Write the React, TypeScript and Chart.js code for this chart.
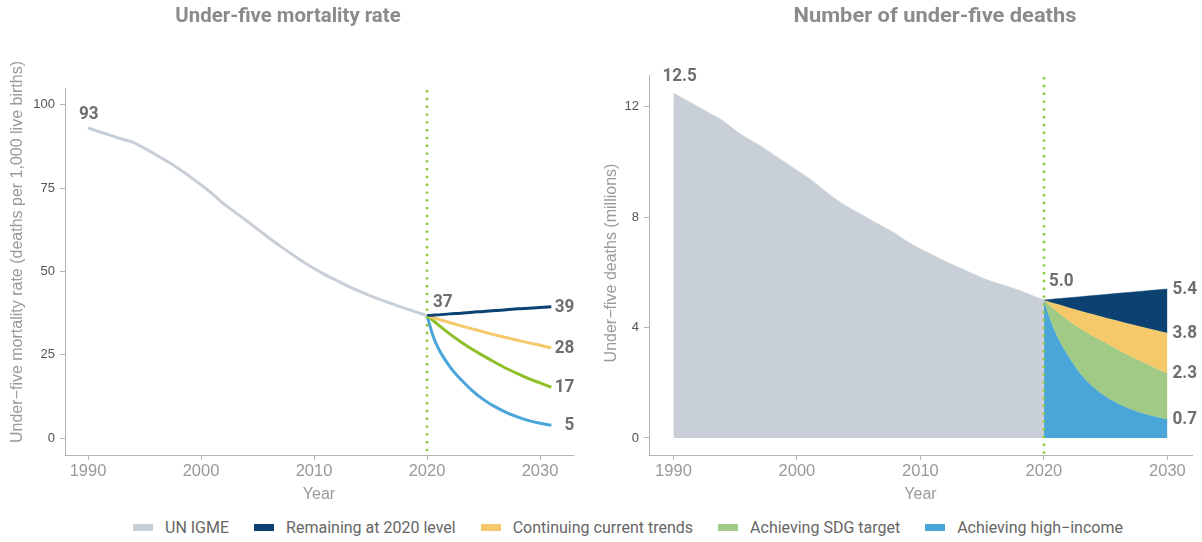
import React, { useEffect, useRef } from "react";
import { Chart, registerables } from "chart.js";
Chart.register(...registerables);

// ---------- data ----------
const histYears = [1990, 1991, 1992, 1993, 1994, 1995, 1996, 1997, 1998, 1999, 2000, 2001, 2002, 2003, 2004, 2005, 2006, 2007, 2008, 2009, 2010, 2011, 2012, 2013, 2014, 2015, 2016, 2017, 2018, 2019, 2020];
const rateHistoric = [93.0, 91.9, 90.8, 89.7, 88.7, 86.9, 85.0, 83.0, 80.9, 78.5, 76.0, 73.3, 70.3, 67.8, 65.3, 62.7, 60.1, 57.6, 55.3, 53.0, 50.9, 49.0, 47.3, 45.6, 44.1, 42.7, 41.4, 40.2, 39.0, 37.9, 36.8];
const rateProjYears = [2020, 2020.5, 2021, 2022, 2023, 2024, 2025, 2026, 2027, 2028, 2029, 2030, 2031];
const rateRemaining = [36.8, 36.9, 37.0, 37.3, 37.5, 37.8, 38.0, 38.3, 38.5, 38.8, 39.0, 39.2, 39.4];
const rateTrend = [36.8, 36.2, 35.7, 34.7, 33.7, 32.8, 31.9, 31.0, 30.2, 29.4, 28.6, 27.9, 27.1];
const rateSDG = [36.8, 35.4, 34.0, 31.3, 28.9, 26.7, 24.7, 22.8, 21.0, 19.4, 17.9, 16.6, 15.3];
const rateHighIncome = [36.8, 31.0, 27.0, 21.6, 17.6, 14.3, 11.6, 9.5, 7.8, 6.4, 5.3, 4.5, 3.9];

const deathsHistoric = [12.5, 12.25, 12.0, 11.75, 11.5, 11.15, 10.85, 10.6, 10.3, 10.0, 9.7, 9.4, 9.05, 8.7, 8.4, 8.15, 7.9, 7.65, 7.4, 7.1, 6.85, 6.63, 6.4, 6.2, 6.0, 5.8, 5.64, 5.5, 5.35, 5.17, 5.0];
const deathsProjYears = [2020, 2020.5, 2021, 2022, 2023, 2024, 2025, 2026, 2027, 2028, 2029, 2030];
const deathsRemaining = [5.0, 5.02, 5.04, 5.08, 5.12, 5.16, 5.2, 5.24, 5.28, 5.32, 5.36, 5.4];
const deathsTrend = [5.0, 4.93, 4.86, 4.73, 4.6, 4.48, 4.36, 4.25, 4.13, 4.02, 3.91, 3.8];
const deathsSDG = [5.0, 4.8, 4.6, 4.25, 3.95, 3.68, 3.45, 3.2, 2.96, 2.75, 2.54, 2.34];
const deathsHighIncome = [5.0, 4.3, 3.75, 2.95, 2.3, 1.85, 1.5, 1.25, 1.05, 0.9, 0.78, 0.68];

const yearTicks = [1990, 2000, 2010, 2020, 2030];
const rateTicks = [0, 25, 50, 75, 100];
const deathsTicks = [0, 4, 8, 12];
const splitYear = 2020;

const seriesNames = ["UN IGME", "Remaining at 2020 level", "Continuing current trends", "Achieving SDG target", "Achieving high\u2212income"];
const rateStartLabels = ["93", "37"];
const rateEndLabels = ["39", "28", "17", "5"];
const deathsStartLabels = ["12.5", "5.0"];
const deathsEndLabels = ["5.4", "3.8", "2.3", "0.7"];

// ---------- styles ----------
const C_GRAY = "#c9cfd7";
const C_NAVY = "#0b4271";
const C_YELLOW = "#f5c96a";
const C_GREEN_LINE = "#8fbf2a";
const C_GREEN_AREA = "#a0ca86";
const C_BLUE = "#4aa5d9";
const C_DOT = "#8dc63f";
const C_AXIS = "#b5b5b5";
const seriesColors = [C_GRAY, C_NAVY, C_YELLOW, C_GREEN_AREA, C_BLUE];

const SANS = "'Liberation Sans', Arial, sans-serif";
const COND = "Roboto, 'Liberation Sans', sans-serif";

const pts = (xs: number[], ys: number[]) => xs.map((x, i) => ({ x, y: ys[i] }));

// draw text horizontally compressed to imitate a condensed face
function condText(ctx: any, text: string, x: number, y: number, align: string, sx: number) {
  ctx.save();
  ctx.translate(x, y);
  ctx.scale(sx, 1);
  ctx.textAlign = align;
  ctx.fillText(text, 0, 0);
  ctx.restore();
}

const annotPlugin = {
  id: "annot",
  afterDatasetsDraw(chart: any, _args: any, opts: any) {
    const { ctx, chartArea, scales } = chart;
    const x = scales.x.getPixelForValue(opts.splitYear);
    ctx.save();
    ctx.strokeStyle = C_DOT;
    ctx.lineWidth = 2.5;
    ctx.lineCap = "butt";
    ctx.setLineDash([2.4, 5.4]);
    ctx.beginPath();
    ctx.moveTo(x, chartArea.top + 2);
    ctx.lineTo(x, chartArea.bottom);
    ctx.stroke();
    ctx.restore();
  },
  afterDraw(chart: any, _args: any, opts: any) {
    const { ctx } = chart;
    ctx.save();
    ctx.font = `bold 21px ${COND}`;
    ctx.fillStyle = "#8b8b8b";
    ctx.textBaseline = "middle";
    condText(ctx, opts.title, opts.titleX, opts.titleY, "center", opts.titleScale);

    ctx.save();
    ctx.translate(opts.yTitleX, opts.yTitleY);
    ctx.rotate(-Math.PI / 2);
    ctx.font = `16px ${SANS}`;
    ctx.fillStyle = "#9a9a9a";
    ctx.textAlign = "center";
    ctx.textBaseline = "middle";
    ctx.fillText(opts.yTitle, 0, 0);
    ctx.restore();

    ctx.font = `bold 19px ${COND}`;
    ctx.fillStyle = "#6e6e6e";
    ctx.textBaseline = "middle";
    for (const l of opts.labels) {
      const meta = chart.getDatasetMeta(l.ds);
      const idx = l.idx < 0 ? meta.data.length - 1 : l.idx;
      const p = meta.data[idx];
      condText(ctx, l.text, p.x + l.dx, p.y + l.dy, l.align, 0.9);
    }
    ctx.restore();
  },
};

function makeScales(xMin: number, xMax: number, yMin: number, yMax: number, yTicks: number[], yWidth: number) {
  return {
    x: {
      type: "linear" as const,
      min: xMin,
      max: xMax,
      afterBuildTicks: (s: any) => { s.ticks = yearTicks.map((v) => ({ value: v })); },
      afterFit: (s: any) => { s.height = 50; },
      grid: { drawOnChartArea: false, drawTicks: true, tickLength: 5, color: C_AXIS },
      border: { display: true, color: C_AXIS, width: 1 },
      ticks: { padding: 2, color: "#999999", font: { family: SANS, size: 16.5 }, callback: (v: any) => String(v) },
      title: { display: true, text: "Year", color: "#999999", font: { family: SANS, size: 16 }, padding: { top: 0, bottom: 1 } },
    },
    y: {
      type: "linear" as const,
      min: yMin,
      max: yMax,
      afterBuildTicks: (s: any) => { s.ticks = yTicks.map((v) => ({ value: v })); },
      afterFit: (s: any) => { s.width = yWidth; },
      grid: { drawOnChartArea: false, drawTicks: true, tickLength: 5, color: C_AXIS },
      border: { display: true, color: C_AXIS, width: 1 },
      ticks: { padding: 5, color: "#555555", font: { family: SANS, size: 13 } },
      title: { display: false },
    },
  };
}

function RateChart() {
  const ref = useRef<HTMLCanvasElement>(null);
  useEffect(() => {
    const line = (data: any, color: string) => ({
      data,
      borderColor: color,
      backgroundColor: color,
      borderWidth: 3,
      pointRadius: 0,
      fill: false,
      cubicInterpolationMode: "monotone" as const,
    });
    const chart = new Chart(ref.current!, {
      type: "line",
      data: {
        datasets: [
          line(pts(histYears, rateHistoric), C_GRAY),
          line(pts(rateProjYears, rateRemaining), C_NAVY),
          line(pts(rateProjYears, rateTrend), C_YELLOW),
          line(pts(rateProjYears, rateSDG), C_GREEN_LINE),
          line(pts(rateProjYears, rateHighIncome), C_BLUE),
        ],
      },
      options: {
        responsive: false,
        animation: false,
        layout: { padding: { top: 88, right: 17, bottom: 0, left: 0 } },
        scales: makeScales(1987.96, 2032.92, -5, 105, rateTicks, 65) as any,
        plugins: {
          legend: { display: false },
          tooltip: { enabled: false },
          annot: {
            splitYear,
            title: "Under-five mortality rate",
            titleX: 288,
            titleY: 17,
            titleScale: 0.97,
            yTitle: "Under\u2212five mortality rate (deaths per 1,000 live births)",
            yTitleX: 18,
            yTitleY: 252,
            labels: [
              { text: rateStartLabels[0], ds: 0, idx: 0, align: "left", dx: -9, dy: -14 },
              { text: rateStartLabels[1], ds: 0, idx: -1, align: "left", dx: 6, dy: -13 },
              { text: rateEndLabels[0], ds: 1, idx: -1, align: "right", dx: 23, dy: 0 },
              { text: rateEndLabels[1], ds: 2, idx: -1, align: "right", dx: 23, dy: 0 },
              { text: rateEndLabels[2], ds: 3, idx: -1, align: "right", dx: 23, dy: 0 },
              { text: rateEndLabels[3], ds: 4, idx: -1, align: "right", dx: 23, dy: 0 },
            ],
          },
        } as any,
      },
      plugins: [annotPlugin],
    });
    return () => chart.destroy();
  }, []);
  return <canvas ref={ref} width={590} height={505} style={{ position: "absolute", left: 0, top: 0, width: 590, height: 505 }} />;
}

function DeathsChart() {
  const ref = useRef<HTMLCanvasElement>(null);
  useEffect(() => {
    const area = (data: any, color: string, fill: any) => ({
      data,
      borderColor: color,
      backgroundColor: color,
      borderWidth: 0.5,
      pointRadius: 0,
      fill,
      cubicInterpolationMode: "monotone" as const,
    });
    const chart = new Chart(ref.current!, {
      type: "line",
      data: {
        datasets: [
          area(pts(histYears, deathsHistoric), C_GRAY, "origin"),
          area(pts(deathsProjYears, deathsRemaining), C_NAVY, "+1"),
          area(pts(deathsProjYears, deathsTrend), C_YELLOW, "+1"),
          area(pts(deathsProjYears, deathsSDG), C_GREEN_AREA, "+1"),
          area(pts(deathsProjYears, deathsHighIncome), C_BLUE, "origin"),
        ],
      },
      options: {
        responsive: false,
        animation: false,
        layout: { padding: { top: 75, right: 10, bottom: 0, left: 0 } },
        scales: makeScales(1988.02, 2031.99, -0.616, 13.15, deathsTicks, 59) as any,
        plugins: {
          legend: { display: false },
          tooltip: { enabled: false },
          filler: { propagate: false },
          annot: {
            splitYear,
            title: "Number of under-five deaths",
            titleX: 345,
            titleY: 17,
            titleScale: 1.04,
            yTitle: "Under\u2212five deaths (millions)",
            yTitleX: 22,
            yTitleY: 263,
            labels: [
              { text: deathsStartLabels[0], ds: 0, idx: 0, align: "left", dx: -11, dy: -17 },
              { text: deathsStartLabels[1], ds: 0, idx: -1, align: "left", dx: 5, dy: -19 },
              { text: deathsEndLabels[0], ds: 1, idx: -1, align: "left", dx: 5, dy: 0 },
              { text: deathsEndLabels[1], ds: 2, idx: -1, align: "left", dx: 5, dy: 0 },
              { text: deathsEndLabels[2], ds: 3, idx: -1, align: "left", dx: 5, dy: 0 },
              { text: deathsEndLabels[3], ds: 4, idx: -1, align: "left", dx: 5, dy: 0 },
            ],
          },
        } as any,
      },
      plugins: [annotPlugin],
    });
    return () => chart.destroy();
  }, []);
  return <canvas ref={ref} width={612} height={505} style={{ position: "absolute", left: 590, top: 0, width: 612, height: 505 }} />;
}

function Legend() {
  return (
    <div style={{ position: "absolute", left: 133, top: 517, height: 20, display: "flex", alignItems: "center", fontFamily: COND, fontSize: 16, color: "#666666", whiteSpace: "nowrap" }}>
      {seriesNames.map((name, i) => (
        <div key={name} style={{ display: "flex", alignItems: "center", marginRight: 25 }}>
          <span style={{ display: "inline-block", width: 20, height: 7, background: seriesColors[i], marginRight: 12 }} />
          <span>{name}</span>
        </div>
      ))}
    </div>
  );
}

export default function App() {
  return (
    <div style={{ position: "absolute", left: 0, top: 0, width: 1202, height: 542, background: "#ffffff", overflow: "hidden" }}>
      <RateChart />
      <DeathsChart />
      <Legend />
    </div>
  );
}
